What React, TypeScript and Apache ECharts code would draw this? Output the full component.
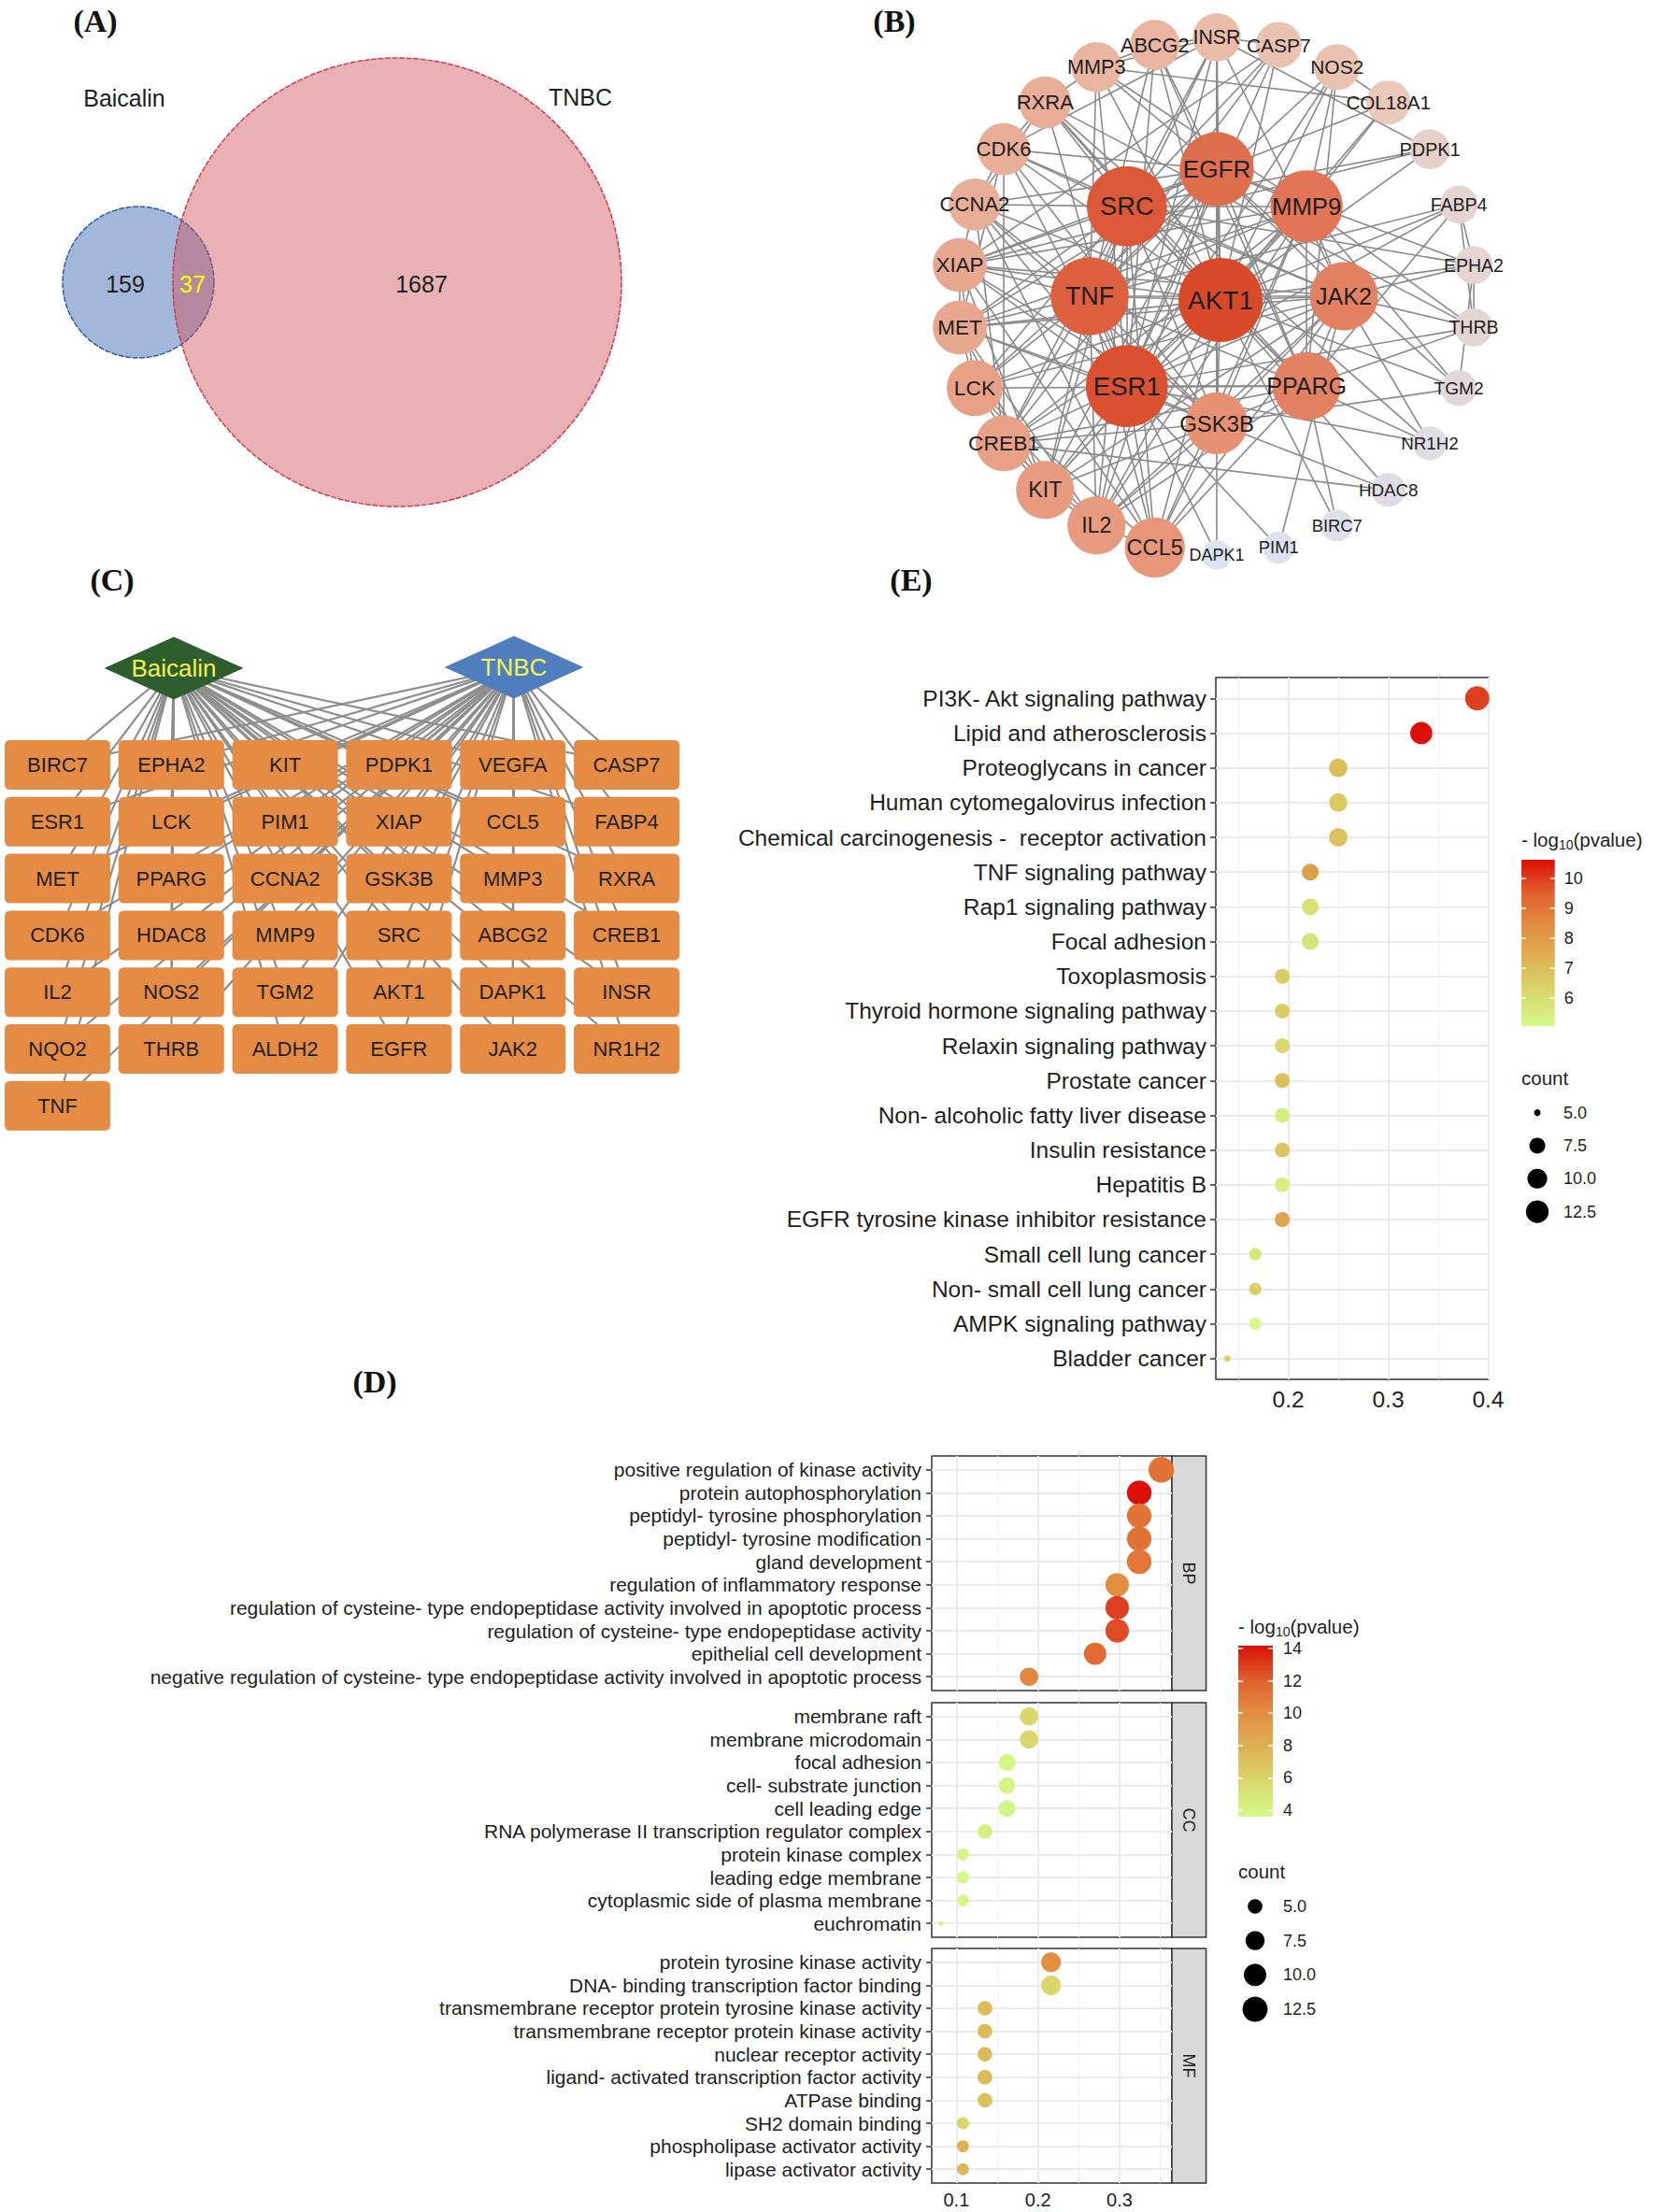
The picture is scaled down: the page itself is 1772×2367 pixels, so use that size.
import React, { useEffect, useRef } from 'react';
import * as echarts from 'echarts';

const W = 1772;
const H = 2367;
const FONT = '"Liberation Sans", Arial, Helvetica, sans-serif';
const SERIF = '"Liberation Serif", "Times New Roman", serif';
const TXT = '#1e1e1e';

// ---------------- Panel A : Venn ----------------
const vennSets = ['Baicalin', 'TNBC'];
const vennOnly = [159, 1687];
const vennShared = 37;

// ---------------- Panel B : PPI network ----------------
const ppiHub = 'AKT1';
const ppiInner = ['EGFR', 'MMP9', 'JAK2', 'PPARG', 'GSK3B', 'ESR1', 'TNF', 'SRC'];
const ppiOuter = ['INSR', 'CASP7', 'NOS2', 'COL18A1', 'PDPK1', 'FABP4', 'EPHA2', 'THRB', 'TGM2', 'NR1H2', 'HDAC8', 'BIRC7', 'PIM1', 'DAPK1', 'CCL5', 'IL2', 'KIT', 'CREB1', 'LCK', 'MET', 'XIAP', 'CCNA2', 'CDK6', 'RXRA', 'MMP3', 'ABCG2'];
const ppiDegree: Record<string, number> = {
  AKT1: 30, ESR1: 29, SRC: 28, TNF: 27, EGFR: 25, MMP9: 24, JAK2: 22, PPARG: 22, GSK3B: 19,
  CCL5: 18, IL2: 17, KIT: 17, CREB1: 16, LCK: 16, MET: 15, XIAP: 15, CCNA2: 14, CDK6: 14, RXRA: 14,
  MMP3: 13, ABCG2: 13, INSR: 12, CASP7: 11, NOS2: 11, COL18A1: 10, PDPK1: 8, FABP4: 7, EPHA2: 7,
  THRB: 7, TGM2: 6, NR1H2: 5, HDAC8: 5, BIRC7: 4, PIM1: 4, DAPK1: 3,
};
const ppiAdj: Record<string, string> = {
  AKT1: 'EGFR SRC MMP9 TNF JAK2 ESR1 PPARG GSK3B CCL5 IL2 KIT CREB1 LCK MET XIAP CCNA2 CDK6 RXRA MMP3 INSR CASP7 NOS2 PDPK1 ABCG2 FABP4 TGM2 EPHA2 COL18A1 HDAC8 BIRC7',
  ESR1: 'EGFR SRC MMP9 TNF JAK2 PPARG GSK3B CCL5 IL2 CREB1 MET CCNA2 CDK6 RXRA MMP3 ABCG2 INSR CASP7 NOS2 XIAP KIT NR1H2 THRB FABP4 PIM1',
  SRC: 'EGFR MMP9 TNF JAK2 PPARG GSK3B KIT LCK MET XIAP CCNA2 CDK6 IL2 CCL5 CREB1 INSR CASP7 PDPK1 EPHA2 RXRA COL18A1',
  TNF: 'EGFR MMP9 JAK2 PPARG GSK3B CCL5 IL2 KIT CREB1 LCK MET XIAP NOS2 MMP3 CASP7 INSR ABCG2 CCNA2 FABP4 DAPK1',
  EGFR: 'MMP9 JAK2 PPARG GSK3B KIT MET LCK CCNA2 CDK6 CREB1 IL2 INSR ABCG2 EPHA2 MMP3 XIAP TGM2',
  MMP9: 'JAK2 PPARG GSK3B CCL5 IL2 MET MMP3 CREB1 KIT XIAP COL18A1 NOS2 TGM2 THRB',
  PPARG: 'JAK2 GSK3B RXRA CCL5 CREB1 NOS2 FABP4 NR1H2 THRB ABCG2 IL2 BIRC7 LCK',
  JAK2: 'GSK3B IL2 KIT LCK CCL5 CDK6 XIAP MET INSR PIM1 NR1H2 EPHA2 THRB',
  GSK3B: 'CCL5 CREB1 CDK6 CCNA2 XIAP MET KIT IL2 INSR DAPK1 TGM2 HDAC8',
  CCL5: 'IL2 CCNA2 LCK XIAP',
  IL2: 'LCK KIT CREB1 MET',
  KIT: 'LCK MET CREB1 XIAP',
  CREB1: 'CCNA2 HDAC8 CDK6',
  LCK: 'XIAP MET',
  MET: 'CDK6 XIAP',
  XIAP: 'CCNA2 CASP7 PDPK1',
  CCNA2: 'CDK6 RXRA',
  CDK6: 'RXRA INSR',
  RXRA: 'NR1H2 THRB MMP3',
  MMP3: 'COL18A1 INSR ABCG2',
  ABCG2: 'INSR',
  INSR: 'PDPK1 CASP7',
  NOS2: 'COL18A1',
  FABP4: 'EPHA2 THRB',
  EPHA2: 'TGM2 THRB',
};

// ---------------- Panel C : compound-target ----------------
const ctSources = ['Baicalin', 'TNBC'];
const ctTargets = ['BIRC7', 'EPHA2', 'KIT', 'PDPK1', 'VEGFA', 'CASP7', 'ESR1', 'LCK', 'PIM1', 'XIAP', 'CCL5', 'FABP4', 'MET', 'PPARG', 'CCNA2', 'GSK3B', 'MMP3', 'RXRA', 'CDK6', 'HDAC8', 'MMP9', 'SRC', 'ABCG2', 'CREB1', 'IL2', 'NOS2', 'TGM2', 'AKT1', 'DAPK1', 'INSR', 'NQO2', 'THRB', 'ALDH2', 'EGFR', 'JAK2', 'NR1H2', 'TNF'];

// ---------------- Panel E : KEGG ----------------
const keggTerms = ['PI3K- Akt signaling pathway', 'Lipid and atherosclerosis', 'Proteoglycans in cancer', 'Human cytomegalovirus infection', 'Chemical carcinogenesis -  receptor activation', 'TNF signaling pathway', 'Rap1 signaling pathway', 'Focal adhesion', 'Toxoplasmosis', 'Thyroid hormone signaling pathway', 'Relaxin signaling pathway', 'Prostate cancer', 'Non- alcoholic fatty liver disease', 'Insulin resistance', 'Hepatitis B', 'EGFR tyrosine kinase inhibitor resistance', 'Small cell lung cancer', 'Non- small cell lung cancer', 'AMPK signaling pathway', 'Bladder cancer'];
const keggRatio = [0.389, 0.333, 0.25, 0.25, 0.25, 0.222, 0.222, 0.222, 0.194, 0.194, 0.194, 0.194, 0.194, 0.194, 0.194, 0.194, 0.167, 0.167, 0.167, 0.139];
const keggCount = [14, 12, 9, 9, 9, 8, 8, 8, 7, 7, 7, 7, 7, 7, 7, 7, 6, 6, 6, 5];
const keggLogP = [9.95, 10.62, 6.9, 6.6, 6.85, 7.85, 5.85, 5.8, 6.5, 6.5, 6.2, 6.9, 5.5, 6.75, 5.45, 7.7, 5.7, 6.4, 5.07, 6.4];
const keggXTicks = [0.2, 0.3, 0.4];
const keggXMinor = [0.15, 0.25, 0.35];
const keggColorTicks = [6, 7, 8, 9, 10];

// ---------------- Panel D : GO ----------------
const goFacets = ['BP', 'CC', 'MF'];
const goBPTerms = ['positive regulation of kinase activity', 'protein autophosphorylation', 'peptidyl- tyrosine phosphorylation', 'peptidyl- tyrosine modification', 'gland development', 'regulation of inflammatory response', 'regulation of cysteine- type endopeptidase activity involved in apoptotic process', 'regulation of cysteine- type endopeptidase activity', 'epithelial cell development', 'negative regulation of cysteine- type endopeptidase activity involved in apoptotic process'];
const goBPRatio = [0.351, 0.324, 0.324, 0.324, 0.324, 0.297, 0.297, 0.297, 0.270, 0.189];
const goBPCount = [13, 12, 12, 12, 12, 11, 11, 11, 10, 7];
const goBPLogP = [11.2, 14.17, 11.2, 11.2, 11.0, 9.9, 12.9, 12.6, 11.5, 10.2];
const goCCTerms = ['membrane raft', 'membrane microdomain', 'focal adhesion', 'cell- substrate junction', 'cell leading edge', 'RNA polymerase II transcription regulator complex', 'protein kinase complex', 'leading edge membrane', 'cytoplasmic side of plasma membrane', 'euchromatin'];
const goCCRatio = [0.189, 0.189, 0.162, 0.162, 0.162, 0.135, 0.108, 0.108, 0.108, 0.081];
const goCCCount = [7, 7, 6, 6, 6, 5, 4, 4, 4, 3];
const goCCLogP = [5.7, 5.7, 3.9, 3.9, 4.0, 4.3, 3.8, 3.8, 3.8, 3.6];
const goMFTerms = ['protein tyrosine kinase activity', 'DNA- binding transcription factor binding', 'transmembrane receptor protein tyrosine kinase activity', 'transmembrane receptor protein kinase activity', 'nuclear receptor activity', 'ligand- activated transcription factor activity', 'ATPase binding', 'SH2 domain binding', 'phospholipase activator activity', 'lipase activator activity'];
const goMFRatio = [0.216, 0.216, 0.135, 0.135, 0.135, 0.135, 0.135, 0.108, 0.108, 0.108];
const goMFCount = [8, 8, 5, 5, 5, 5, 5, 4, 4, 4];
const goMFLogP = [9.9, 5.7, 7.3, 7.3, 7.4, 7.4, 7.0, 5.9, 7.8, 7.6];
const goXTicks = [0.1, 0.2, 0.3];
const goXMinor = [0.15, 0.25, 0.35];
const goColorTicks = [4, 6, 8, 10, 12, 14];

const sizeLegendValues = [5, 7.5, 10, 12.5];

// colour palettes
const heatStops = ['#D4FA8C', '#D9D86C', '#DEB254', '#E28E42', '#E0602E', '#DC1008'];
const ppiStops = ['#DCE4F3', '#EACABC', '#E89E82', '#E27A5C', '#D84A2A'];

// ---------------- layout (positions only) ----------------
const LA = { cxRed: 425, cxBlue: 148, cy: 302, rRed: 240 };
const LB = { cx: 1302, cy: 317, rIn: 136, rOut: 277 };
const LC = { col0: 61.5, colStep: 121.8, row0: 818.5, rowStep: 60.8, cols: 6, src: [[186, 715], [550, 714]], box: [113, 53], diamond: [149, 67] };
const LE = { left: 1301, top: 725, width: 292, height: 751, xMin: 0.1275, xMax: 0.4005 };
const LEcb = { left: 1628, top: 920, width: 35.7, height: 178 };
const LEsz = { left: 1630, top: 1173, width: 30, height: 141.2 };
const LD = { left: 997, width: 257, tops: [1558, 1822, 2085], height: 251, xMin: 0.0698, xMax: 0.3641, stripW: 36.6 };
const LDcb = { left: 1325, top: 1761, width: 37, height: 183 };
const LDsz = { left: 1328, top: 2021.6, width: 30, height: 146.8 };

function range(n: number) { return Array.from({ length: n }, (_, i) => i); }

function gridLines(xMajor: number[], xMinor: number[], nRows: number) {
  const major = { color: '#EBEBEB', width: 2, type: 'solid' };
  const minor = { color: '#F3F3F3', width: 1, type: 'solid' };
  return {
    silent: true,
    symbol: ['none', 'none'],
    z: 1,
    animation: false,
    label: { show: false },
    emphasis: { disabled: true },
    data: [
      ...xMinor.map((v) => ({ xAxis: v, lineStyle: minor })),
      ...xMajor.map((v) => ({ xAxis: v, lineStyle: major })),
      ...range(nRows).map((i) => ({ yAxis: i, lineStyle: major })),
    ],
  };
}

function buildOption() {
  // ---------- B nodes ----------
  const degs = Object.values(ppiDegree);
  const dMin = Math.min(...degs);
  const dMax = Math.max(...degs);
  const sizeB = (d: number) => 32 + ((d - dMin) * 58) / (dMax - dMin);
  const fontB = (d: number) => 18 + ((d - dMin) * 10) / (dMax - dMin);
  const bNodes: any[] = [];
  const pushB = (name: string, x: number, y: number) => {
    const d = ppiDegree[name];
    bNodes.push({ name, x, y, value: d, symbolSize: sizeB(d), label: { fontSize: fontB(d) } });
  };
  pushB(ppiHub, LB.cx + 4, LB.cy + 4);
  ppiInner.forEach((n, i) => {
    const a = (i / ppiInner.length) * Math.PI * 2;
    pushB(n, LB.cx + LB.rIn * Math.sin(a), LB.cy - LB.rIn * Math.cos(a));
  });
  ppiOuter.forEach((n, i) => {
    const a = (i / ppiOuter.length) * Math.PI * 2;
    pushB(n, LB.cx + LB.rOut * Math.sin(a), LB.cy - LB.rOut * Math.cos(a));
  });
  const bLinks: any[] = [];
  Object.keys(ppiAdj).forEach((s) => ppiAdj[s].split(' ').forEach((t) => bLinks.push({ source: s, target: t })));
  const bxs = bNodes.map((n) => n.x);
  const bys = bNodes.map((n) => n.y);
  const bBox = { left: Math.min(...bxs), top: Math.min(...bys), width: Math.max(...bxs) - Math.min(...bxs), height: Math.max(...bys) - Math.min(...bys) };

  // ---------- C nodes ----------
  const boxPath = 'path://M6 0H107Q113 0 113 6V47Q113 53 107 53H6Q0 53 0 47V6Q0 0 6 0Z';
  const srcColors = ['#2E5E2E', '#4F7EBF'];
  const cNodes: any[] = ctSources.map((s, i) => ({
    name: s, x: LC.src[i][0], y: LC.src[i][1], symbol: 'diamond', symbolSize: LC.diamond,
    itemStyle: { color: srcColors[i] }, label: { fontSize: 26, color: '#F4F44E' },
  }));
  ctTargets.forEach((t, i) => {
    cNodes.push({
      name: t, x: LC.col0 + (i % LC.cols) * LC.colStep, y: LC.row0 + Math.floor(i / LC.cols) * LC.rowStep,
      symbol: boxPath, symbolSize: LC.box, itemStyle: { color: '#E58B44' }, label: { fontSize: 22, color: '#1f1f1f' },
    });
  });
  const cLinks: any[] = [];
  ctSources.forEach((s) => ctTargets.forEach((t) => cLinks.push({ source: s, target: t })));
  const cxs = cNodes.map((n) => n.x);
  const cys = cNodes.map((n) => n.y);
  const cBox = { left: Math.min(...cxs), top: Math.min(...cys), width: Math.max(...cxs) - Math.min(...cxs), height: Math.max(...cys) - Math.min(...cys) };

  // ---------- size scales (ggplot area scale) ----------
  const eCMin = Math.min(...keggCount), eCMax = Math.max(...keggCount);
  const sizeE = (c: number) => 7 + 19 * Math.sqrt(Math.max(0, c - eCMin) / (eCMax - eCMin));
  const goCounts = [...goBPCount, ...goCCCount, ...goMFCount];
  const dCMin = Math.min(...goCounts), dCMax = Math.max(...goCounts);
  const sizeD = (c: number) => 6 + 21.5 * Math.sqrt(Math.max(0, c - dCMin) / (dCMax - dCMin));

  const eLMin = Math.min(...keggLogP), eLMax = Math.max(...keggLogP);
  const goLogs = [...goBPLogP, ...goCCLogP, ...goMFLogP];
  const dLMin = Math.min(...goLogs), dLMax = Math.max(...goLogs);

  const grad = () => new echarts.graphic.LinearGradient(0, 0, 0, 1,
    heatStops.map((c, i) => ({ offset: 1 - i / (heatStops.length - 1), color: c })).reverse());

  const tickStyle = { color: '#333', width: 1.5 };
  const keggIdx = range(keggTerms.length);
  const goIdx = range(10);

  const goTermsAll = [goBPTerms, goCCTerms, goMFTerms];
  const goRatioAll = [goBPRatio, goCCRatio, goMFRatio];
  const goCountAll = [goBPCount, goCCCount, goMFCount];
  const goLogAll = [goBPLogP, goCCLogP, goMFLogP];

  const grid: any[] = [
    { left: LE.left, top: LE.top, width: LE.width, height: LE.height, show: true, borderColor: '#333', borderWidth: 1.5, backgroundColor: '#fff' },
    { left: LEcb.left, top: LEcb.top, width: LEcb.width, height: LEcb.height },
    { left: LEsz.left, top: LEsz.top, width: LEsz.width, height: LEsz.height },
    ...LD.tops.map((t) => ({ left: LD.left, top: t, width: LD.width, height: LD.height, show: true, borderColor: '#333', borderWidth: 1.5, backgroundColor: '#fff' })),
    { left: LDcb.left, top: LDcb.top, width: LDcb.width, height: LDcb.height },
    { left: LDsz.left, top: LDsz.top, width: LDsz.width, height: LDsz.height },
  ];

  const xAxis: any[] = [
    {
      gridIndex: 0, type: 'value', min: LE.xMin, max: LE.xMax,
      axisLine: { show: false }, splitLine: { show: false },
      axisTick: { show: true, length: 6, lineStyle: tickStyle, customValues: keggXTicks },
      axisLabel: { customValues: keggXTicks, formatter: (v: number) => v.toFixed(1), fontSize: 24.5, color: TXT, margin: 9, fontFamily: FONT },
    },
    { gridIndex: 1, type: 'category', data: [''], show: false },
    { gridIndex: 2, type: 'value', min: -1, max: 1, show: false },
    ...LD.tops.map((_, k) => ({
      gridIndex: 3 + k, type: 'value', min: LD.xMin, max: LD.xMax,
      axisLine: { show: false }, splitLine: { show: false },
      axisTick: { show: k === 2, length: 6, lineStyle: tickStyle, customValues: goXTicks },
      axisLabel: { show: k === 2, customValues: goXTicks, formatter: (v: number) => v.toFixed(1), fontSize: 20, color: TXT, margin: 8, fontFamily: FONT },
    })),
    { gridIndex: 6, type: 'category', data: [''], show: false },
    { gridIndex: 7, type: 'value', min: -1, max: 1, show: false },
  ];

  const cbAxis = (gridIndex: number, min: number, max: number, ticks: number[], pos: string, labels: boolean, margin: number) => ({
    gridIndex, type: 'value', min, max, position: pos, z: 5,
    axisLine: { show: false }, splitLine: { show: false },
    axisTick: { show: true, inside: true, length: 5, lineStyle: { color: '#fff', width: 1.5 }, customValues: ticks },
    axisLabel: { show: labels, inside: false, customValues: ticks, fontSize: 18, color: TXT, margin, fontFamily: FONT },
  });

  const yAxis: any[] = [
    {
      gridIndex: 0, type: 'value', inverse: true, min: -0.6, max: keggTerms.length - 0.4,
      axisLine: { show: false }, splitLine: { show: false },
      axisTick: { show: true, length: 6, lineStyle: tickStyle, customValues: keggIdx },
      axisLabel: { customValues: keggIdx, formatter: (v: number) => keggTerms[Math.round(v)], fontSize: 24.5, color: TXT, margin: 10, fontFamily: FONT },
    },
    cbAxis(1, eLMin, eLMax, keggColorTicks, 'left', false, 8),
    cbAxis(1, eLMin, eLMax, keggColorTicks, 'right', true, 10),
    {
      gridIndex: 2, type: 'category', inverse: true, position: 'right', data: sizeLegendValues.map((v) => v.toFixed(1)),
      axisLine: { show: false }, axisTick: { show: false }, splitLine: { show: false },
      axisLabel: { fontSize: 18, color: TXT, margin: 13, fontFamily: FONT },
    },
    ...LD.tops.map((_, k) => ({
      gridIndex: 3 + k, type: 'value', inverse: true, min: -0.6, max: 9.6,
      axisLine: { show: false }, splitLine: { show: false },
      axisTick: { show: true, length: 6, lineStyle: tickStyle, customValues: goIdx },
      axisLabel: { customValues: goIdx, formatter: (v: number) => goTermsAll[k][Math.round(v)], fontSize: 21, color: TXT, margin: 11, fontFamily: FONT },
    })),
    cbAxis(6, dLMin, dLMax, goColorTicks, 'left', false, 8),
    cbAxis(6, dLMin, dLMax, goColorTicks, 'right', true, 11),
    {
      gridIndex: 7, type: 'category', inverse: true, position: 'right', data: sizeLegendValues.map((v) => v.toFixed(1)),
      axisLine: { show: false }, axisTick: { show: false }, splitLine: { show: false },
      axisLabel: { fontSize: 18, color: TXT, margin: 15, fontFamily: FONT },
    },
  ];

  const series: any[] = [
    // 0 : B network
    {
      type: 'graph', layout: 'none', roam: false, silent: true,
      left: bBox.left, top: bBox.top, width: bBox.width, height: bBox.height,
      symbol: 'circle', data: bNodes, links: bLinks,
      label: { show: true, position: 'inside', color: TXT, fontFamily: FONT },
      lineStyle: { color: '#8A8A8A', width: 1.6, opacity: 1, curveness: 0 },
      itemStyle: { opacity: 1 },
      emphasis: { disabled: true },
    },
    // 1 : C network
    {
      type: 'graph', layout: 'none', roam: false, silent: true,
      left: cBox.left, top: cBox.top, width: cBox.width, height: cBox.height,
      data: cNodes, links: cLinks,
      label: { show: true, position: 'inside', fontFamily: FONT },
      lineStyle: { color: '#8E8E8E', width: 2.2, opacity: 1, curveness: 0 },
      itemStyle: { opacity: 1 },
      emphasis: { disabled: true },
    },
    // 2 : E dots
    {
      type: 'scatter', xAxisIndex: 0, yAxisIndex: 0, z: 3,
      data: keggTerms.map((_, i) => [keggRatio[i], i, keggLogP[i], keggCount[i]]),
      encode: { x: 0, y: 1 },
      symbolSize: (v: number[]) => sizeE(v[3]),
      itemStyle: { opacity: 1 },
      markLine: gridLines(keggXTicks, keggXMinor, keggTerms.length),
    },
    // 3,4 : E colourbar
    { type: 'bar', xAxisIndex: 1, yAxisIndex: 2, stack: 'ecb', barWidth: '100%', silent: true, data: [eLMin], itemStyle: { color: 'rgba(0,0,0,0)' } },
    { type: 'bar', xAxisIndex: 1, yAxisIndex: 2, stack: 'ecb', barWidth: '100%', silent: true, data: [eLMax - eLMin], itemStyle: { color: grad() } },
    // 5 : E size legend
    {
      type: 'scatter', xAxisIndex: 2, yAxisIndex: 3, silent: true,
      data: sizeLegendValues.map((v, i) => ({ value: [0, i], symbolSize: sizeE(v) })),
      itemStyle: { color: '#000', opacity: 1 },
    },
    // 6,7,8 : D facets
    ...goFacets.map((_, k) => ({
      type: 'scatter', xAxisIndex: 3 + k, yAxisIndex: 4 + k, z: 3,
      data: goTermsAll[k].map((__, i) => [goRatioAll[k][i], i, goLogAll[k][i], goCountAll[k][i]]),
      encode: { x: 0, y: 1 },
      symbolSize: (v: number[]) => sizeD(v[3]),
      itemStyle: { opacity: 1 },
      markLine: gridLines(goXTicks, goXMinor, 10),
    })),
    // 9,10 : D colourbar
    { type: 'bar', xAxisIndex: 6, yAxisIndex: 8, stack: 'dcb', barWidth: '100%', silent: true, data: [dLMin], itemStyle: { color: 'rgba(0,0,0,0)' } },
    { type: 'bar', xAxisIndex: 6, yAxisIndex: 8, stack: 'dcb', barWidth: '100%', silent: true, data: [dLMax - dLMin], itemStyle: { color: grad() } },
    // 11 : D size legend
    {
      type: 'scatter', xAxisIndex: 7, yAxisIndex: 9, silent: true,
      data: sizeLegendValues.map((v, i) => ({ value: [0, i], symbolSize: sizeD(v) })),
      itemStyle: { color: '#000', opacity: 1 },
    },
  ];

  const visualMap: any[] = [
    { type: 'continuous', show: false, seriesIndex: [0], min: dMin, max: dMax, inRange: { color: ppiStops } },
    { type: 'continuous', show: false, seriesIndex: [2], dimension: 2, min: eLMin, max: eLMax, inRange: { color: heatStops } },
    { type: 'continuous', show: false, seriesIndex: [6, 7, 8], dimension: 2, min: dLMin, max: dLMax, inRange: { color: heatStops } },
  ];

  // ---------- graphic ----------
  const rBlue = LA.rRed * Math.sqrt((vennOnly[0] + vennShared) / (vennOnly[1] + vennShared));
  const panelLabel = (t: string, x: number, y: number) => ({
    type: 'text', x, y, silent: true,
    style: { text: t, fontFamily: SERIF, fontWeight: 'bold', fontSize: 34, fill: '#111', align: 'center', verticalAlign: 'middle' },
  });
  const txt = (t: string, x: number, y: number, size: number, fill = TXT, align = 'center') => ({
    type: 'text', x, y, silent: true,
    style: { text: t, fontFamily: FONT, fontSize: size, fill, align, verticalAlign: 'middle' },
  });
  const legendTitle = (x: number, y: number) => ({
    type: 'text', x, y, silent: true,
    style: {
      text: '{a|- log}{s|10}{a|(pvalue)}', align: 'left', verticalAlign: 'middle', fontFamily: FONT,
      rich: {
        a: { fontSize: 20.5, lineHeight: 26, fontFamily: FONT, fill: TXT },
        s: { fontSize: 14, lineHeight: 15, fontFamily: FONT, fill: TXT, verticalAlign: 'bottom' },
      },
    },
  });

  const graphic: any[] = [
    // Venn
    { type: 'circle', silent: true, shape: { cx: LA.cxBlue, cy: LA.cy, r: rBlue }, style: { fill: 'rgba(72,112,184,0.5)', stroke: '#2F5BA8', lineWidth: 1.5, lineDash: [6, 1.5] } },
    { type: 'circle', silent: true, shape: { cx: LA.cxRed, cy: LA.cy, r: LA.rRed }, style: { fill: 'rgba(208,82,92,0.45)', stroke: '#D03A4A', lineWidth: 1.5, lineDash: [6, 1.5] } },
    txt(vennSets[0], 133, 105, 25),
    txt(vennSets[1], 621, 104, 25),
    txt(String(vennOnly[0]), 134, 304, 25),
    txt(String(vennShared), 206, 304, 25, '#FFFF00'),
    txt(String(vennOnly[1]), 451, 304, 25),
    // panel letters
    panelLabel('(A)', 102, 22),
    panelLabel('(B)', 957, 22),
    panelLabel('(C)', 120, 620),
    panelLabel('(E)', 975, 620),
    panelLabel('(D)', 401, 1478),
    // legends
    legendTitle(1628, 898),
    txt('count', 1628, 1153, 20.5, TXT, 'left'),
    legendTitle(1325, 1740),
    txt('count', 1325, 2002, 20.5, TXT, 'left'),
    // facet strips
    ...LD.tops.map((t, k) => ({
      type: 'group', silent: true,
      children: [
        { type: 'rect', shape: { x: LD.left + LD.width, y: t, width: LD.stripW, height: LD.height }, style: { fill: '#D9D9D9', stroke: '#333', lineWidth: 1.5 } },
        { type: 'text', x: LD.left + LD.width + LD.stripW / 2, y: t + LD.height / 2, rotation: -Math.PI / 2, style: { text: goFacets[k], fontFamily: FONT, fontSize: 18, fill: TXT, align: 'center', verticalAlign: 'middle' } },
      ],
    })),
  ];

  return {
    animation: false,
    backgroundColor: '#ffffff',
    textStyle: { fontFamily: FONT },
    grid, xAxis, yAxis, series, visualMap, graphic,
  };
}

export default function App() {
  const ref = useRef<HTMLDivElement>(null);
  useEffect(() => {
    document.body.style.margin = '0';
    const chart = echarts.init(ref.current as HTMLDivElement, null, { renderer: 'svg', width: W, height: H });
    chart.setOption(buildOption() as any);
    return () => chart.dispose();
  }, []);
  return <div ref={ref} style={{ width: W, height: H, background: '#fff' }} />;
}
